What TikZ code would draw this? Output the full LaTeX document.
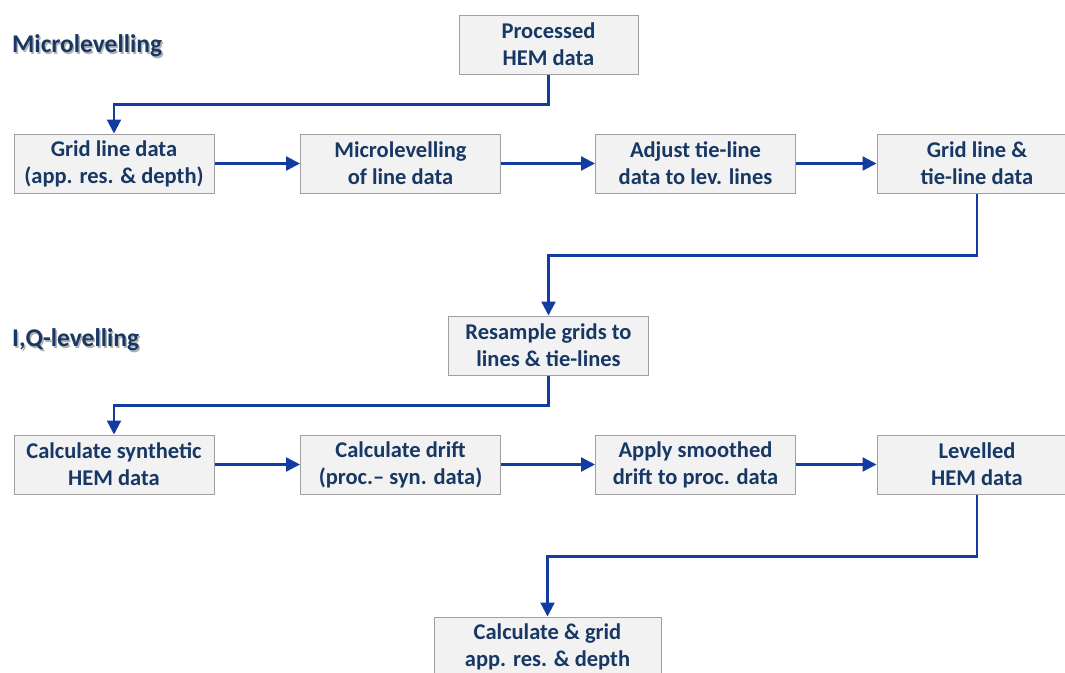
\documentclass[tikz,border=0pt]{standalone}
\usepackage{fontspec}
\setmainfont{Carlito}
\usetikzlibrary{arrows.meta}
\definecolor{txt}{RGB}{23,55,100}
\definecolor{arrc}{RGB}{18,60,160}
\definecolor{boxfill}{RGB}{242,242,242}
\definecolor{boxline}{RGB}{160,160,160}
\tikzset{
  box/.style={draw=boxline, fill=boxfill, line width=1pt, minimum width=200pt, minimum height=59pt,
    inner sep=0pt, align=center, text=txt, font=\bfseries\fontsize{22.5}{27}\selectfont},
  arr/.style={draw=arrc, line width=2.3pt, -{Triangle[length=14pt,width=14pt]}},
  ttl/.style={anchor=west, text=txt, font=\bfseries\fontsize{25.5}{28}\selectfont, inner sep=0pt},
  shd/.style={anchor=west, text=black!30, font=\bfseries\fontsize{25.5}{28}\selectfont, inner sep=0pt},
}
\begin{document}
\begin{tikzpicture}[x=1pt,y=-1pt]
\clip (0,0) rectangle (1065,672);
\fill[white] (0,0) rectangle (1065,672);
% titles
\node[shd] (t1s) at (13.5,47.5) {Microlevelling};
\node[ttl] (t1) at (12,46) {Microlevelling};
\node[shd] (t2s) at (13.5,341.5) {I,Q-levelling};
\node[ttl] (t2) at (12,340) {I,Q-levelling};
% boxes
\node[box, minimum width=179pt] (proc) at (548.5,44.5) {Processed\\HEM data};
\node[box] (gld) at (114,163.5) {Grid line data\\(app. res. \& depth)};
\node[box] (micro) at (400.5,163.5) {Microlevelling\\of line data};
\node[box] (adj) at (695.5,163.5) {Adjust tie-line\\data to lev. lines};
\node[box] (gltl) at (977,163.5) {Grid line \&\\tie-line data};
\node[box] (res) at (548.5,345.5) {Resample grids to\\lines \& tie-lines};
\node[box] (syn) at (114,464.5) {Calculate synthetic\\HEM data};
\node[box] (drift) at (400.5,464.5) {Calculate drift\\(proc.– syn. data)};
\node[box] (apply) at (695.5,464.5) {Apply smoothed\\drift to proc. data};
\node[box] (lev) at (977,464.5) {Levelled\\HEM data};
\node[box, minimum width=227pt] (calc) at (547.5,646.5) {Calculate \& grid\\app. res. \& depth};
% connectors
\draw[arr] (proc.south) -- ++(0,30) -| (gld.north);
\draw[arr] (gld.east) -- (micro.west);
\draw[arr] (micro.east) -- (adj.west);
\draw[arr] (adj.east) -- (gltl.west);
\draw[arr] (gltl.south) -- ++(0,62) -| (res.north);
\draw[arr] (res.south) -- ++(0,30) -| (syn.north);
\draw[arr] (syn.east) -- (drift.west);
\draw[arr] (drift.east) -- (apply.west);
\draw[arr] (apply.east) -- (lev.west);
\draw[arr] (lev.south) -- ++(0,62) -| (calc.north);
\end{tikzpicture}
\end{document}
